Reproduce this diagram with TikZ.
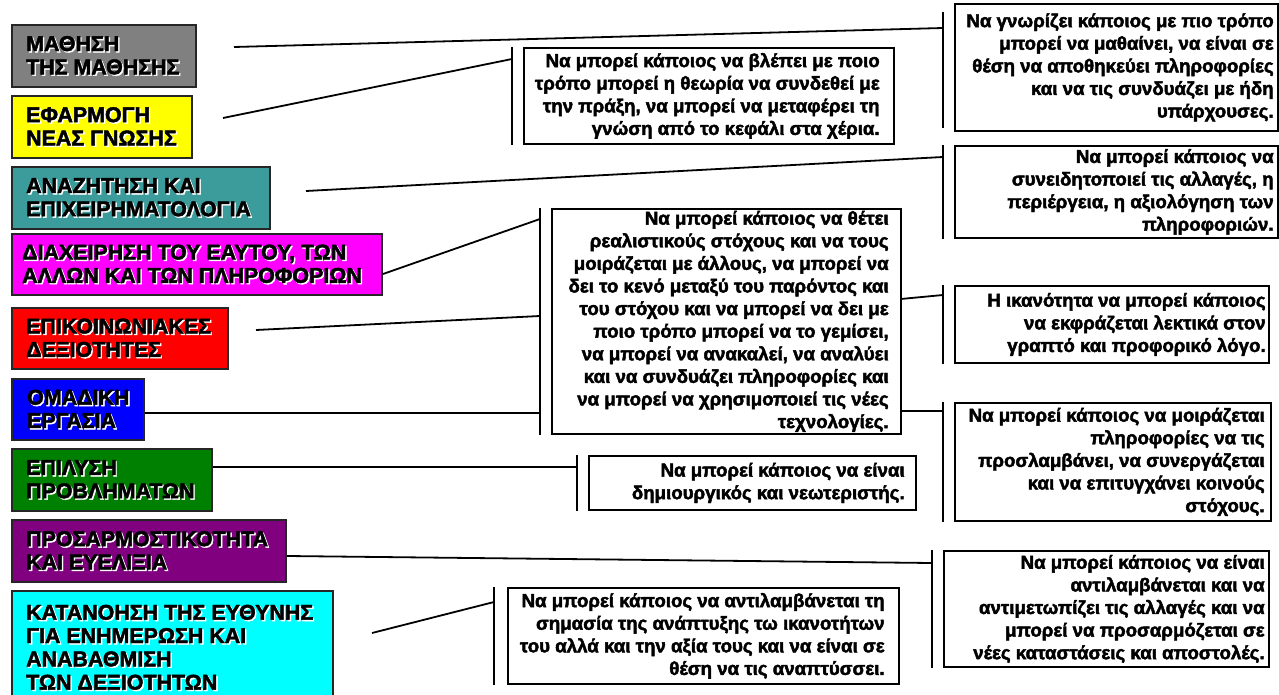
\documentclass[tikz,border=0pt]{standalone}
\usepackage{fontspec}
\setmainfont{Liberation Sans}
\newfontfamily\arialbold{Liberation Sans Bold}
\newcommand\heavy{\special{pdf:literal direct 2 Tr 0.45 w}}
\definecolor{cgray}{RGB}{128,128,128}
\definecolor{cyellow}{RGB}{255,255,0}
\definecolor{cteal}{RGB}{60,155,155}
\definecolor{cmag}{RGB}{255,0,255}
\definecolor{cred}{RGB}{255,0,0}
\definecolor{cblue}{RGB}{0,0,255}
\definecolor{cgreen}{RGB}{0,128,0}
\definecolor{cpurple}{RGB}{128,0,128}
\definecolor{ccyan}{RGB}{0,255,255}
\newcommand\sh[1]{\rlap{\kern1.4pt\raisebox{-1.4pt}{\color{white}#1}}#1}
\tikzset{
  lbox/.style={draw=black!85, line width=2pt, anchor=north west, inner sep=0pt},
  rbox/.style={draw=black, line width=1.8pt, anchor=north west, inner sep=0pt, fill=white},
  ltext/.style={font=\arialbold\fontsize{21.4}{23.3}\selectfont\heavy, align=left, inner sep=0pt, anchor=west},
  rtext/.style={font=\arialbold\fontsize{18.7}{22.6}\selectfont\heavy, align=right, inner sep=0pt, anchor=east},
  conn/.style={line width=1.8pt},
  brk/.style={line width=2pt},
}
\begin{document}
\begin{tikzpicture}[x=1pt,y=-1pt]
\useasboundingbox (0,0) rectangle (1279,695);

% left boxes
\node[lbox, fill=cgray, minimum width=184pt, minimum height=62pt,
  label={[ltext, label distance=-15pt]west:{\sh{ΜΑΘΗΣΗ}\\\sh{ΤΗΣ ΜΑΘΗΣΗΣ}}}] (gray) at (11,24) {};
\node[lbox, fill=cyellow, minimum width=180pt, minimum height=62pt,
  label={[ltext, label distance=-15pt]west:{\sh{ΕΦΑΡΜΟΓΗ}\\\sh{ΝΕΑΣ ΓΝΩΣΗΣ}}}] (yellow) at (11,95) {};
\node[lbox, fill=cteal, minimum width=258pt, minimum height=62pt,
  label={[ltext, label distance=-15pt]west:{\sh{ΑΝΑΖΗΤΗΣΗ ΚΑΙ}\\\sh{ΕΠΙΧΕΙΡΗΜΑΤΟΛΟΓΙΑ}}}] (teal) at (11,166) {};
\node[lbox, fill=cmag, minimum width=370pt, minimum height=61pt,
  label={[ltext, label distance=-11pt]west:{\sh{ΔΙΑΧΕΙΡΗΣΗ ΤΟΥ ΕΑΥΤΟΥ, ΤΩΝ}\\\sh{ΑΛΛΩΝ ΚΑΙ ΤΩΝ ΠΛΗΡΟΦΟΡΙΩΝ}}}] (mag) at (11,233) {};
\node[lbox, fill=cred, minimum width=216pt, minimum height=61pt,
  label={[ltext, label distance=-15pt]west:{\sh{ΕΠΙΚΟΙΝΩΝΙΑΚΕΣ}\\\sh{ΔΕΞΙΟΤΗΤΕΣ}}}] (red) at (11,307) {};
\node[lbox, fill=cblue, minimum width=132pt, minimum height=61pt,
  label={[ltext, label distance=-16pt]west:{\sh{ΟΜΑΔΙΚΗ}\\\sh{ΕΡΓΑΣΙΑ}}}] (blue) at (11,378) {};
\node[lbox, fill=cgreen, minimum width=200pt, minimum height=62pt,
  label={[ltext, label distance=-15pt]west:{\sh{ΕΠΙΛΥΣΗ}\\\sh{ΠΡΟΒΛΗΜΑΤΩΝ}}}] (green) at (11,448) {};
\node[lbox, fill=cpurple, minimum width=274pt, minimum height=62pt,
  label={[ltext, label distance=-15pt]west:{\sh{ΠΡΟΣΑΡΜΟΣΤΙΚΟΤΗΤΑ}\\\sh{ΚΑΙ ΕΥΕΛΙΞΙΑ}}}] (purple) at (11,519) {};
\node[lbox, fill=ccyan, minimum width=321pt, minimum height=114pt,
  label={[ltext, label distance=-15pt]west:{\sh{ΚΑΤΑΝΟΗΣΗ ΤΗΣ ΕΥΘΥΝΗΣ}\\\sh{ΓΙΑ ΕΝΗΜΕΡΩΣΗ ΚΑΙ}\\\sh{ΑΝΑΒΑΘΜΙΣΗ}\\\sh{ΤΩΝ ΔΕΞΙΟΤΗΤΩΝ}}}] (cyan) at (11,590) {};

% right boxes
\node[rbox, minimum width=323pt, minimum height=127pt,
  label={[rtext, label distance=-5pt]east:{Να γνωρίζει κάποιος με πιο τρόπο\\μπορεί να μαθαίνει, να είναι σε\\θέση να αποθηκεύει πληροφορίες\\και να τις συνδυάζει με ήδη\\υπάρχουσες.}}] (A) at (954,3) {};
\node[rbox, minimum width=370pt, minimum height=96pt,
  label={[rtext, label distance=-15pt]east:{Να μπορεί κάποιος να βλέπει με ποιο\\τρόπο μπορεί η θεωρία να συνδεθεί με\\την πράξη, να μπορεί να μεταφέρει τη\\γνώση από το κεφάλι στα χέρια.}}] (B) at (523,47) {};
\node[rbox, minimum width=323pt, minimum height=92pt,
  label={[rtext, label distance=-5pt]east:{Να μπορεί κάποιος να\\συνειδητοποιεί τις αλλαγές, η\\περιέργεια, η αξιολόγηση των\\πληροφοριών.}}] (C) at (954,145) {};
\node[rbox, minimum width=349pt, minimum height=225pt,
  label={[rtext, label distance=-13pt]east:{Να μπορεί κάποιος να θέτει\\ρεαλιστικούς στόχους και να τους\\μοιράζεται με άλλους, να μπορεί να\\δει το κενό μεταξύ του παρόντος και\\του στόχου και να μπορεί να δει με\\ποιο τρόπο μπορεί να το γεμίσει,\\να μπορεί να ανακαλεί, να αναλύει\\και να συνδυάζει πληροφορίες και\\να μπορεί να χρησιμοποιεί τις νέες\\τεχνολογίες.}}] (D) at (551,208) {};
\node[rbox, minimum width=314pt, minimum height=77pt,
  label={[rtext, label distance=-4pt]east:{Η ικανότητα να μπορεί κάποιος\\να εκφράζεται λεκτικά στον\\γραπτό και προφορικό λόγο.}}] (E) at (954,285) {};
\node[rbox, minimum width=316pt, minimum height=118pt,
  label={[rtext, label distance=-7pt]east:{Να μπορεί κάποιος να μοιράζεται\\πληροφορίες να τις\\προσλαμβάνει, να συνεργάζεται\\και να επιτυγχάνει κοινούς\\στόχους.}}] (F) at (954,402) {};
\node[rbox, minimum width=327pt, minimum height=54pt,
  label={[rtext, label distance=-12pt]east:{Να μπορεί κάποιος να είναι\\δημιουργικός και νεωτεριστής.}}] (G) at (588,455) {};
\node[rbox, minimum width=325pt, minimum height=116pt,
  label={[rtext, label distance=-5pt]east:{Να μπορεί κάποιος να είναι\\αντιλαμβάνεται και να\\αντιμετωπίζει τις αλλαγές και να\\μπορεί να προσαρμόζεται σε\\νέες καταστάσεις και αποστολές.}}] (H) at (943,550) {};
\node[rbox, minimum width=391pt, minimum height=96pt,
  label={[rtext, label distance=-15pt]east:{Να μπορεί κάποιος να αντιλαμβάνεται τη\\σημασία της ανάπτυξης τω ικανοτήτων\\του αλλά και την αξία τους και να είναι σε\\θέση να τις αναπτύσσει.}}] (I) at (507,587) {};

% brackets
\draw[brk] (943,12) -- (943,128);
\foreach \b in {B,C,D,E,F,G,H}
  \draw[brk] ([xshift=-11pt]\b.north west) -- ([xshift=-11pt]\b.south west);
\draw[brk] ([xshift=-13pt]I.north west) -- ([xshift=-13pt]I.south west);

% connector ends
\coordinate (s1) at (234,47);   \coordinate (e1) at (943,28);
\coordinate (s2) at (223,118);  \coordinate (e2) at (512,59);
\coordinate (s3) at (306,191);  \coordinate (e3) at (943,157);
\coordinate (e4) at (540,219);
\coordinate (s5) at (256,330);  \coordinate (e5) at (540,316);
\coordinate (e6) at (540,413);
\coordinate (e7) at (943,295);
\coordinate (e8) at (943,411);
\coordinate (e9) at (577,467);
\coordinate (e10) at (932,563);
\coordinate (s11) at (372,633); \coordinate (e11) at (494,602);

\draw[conn] (s1) -- (e1);
\draw[conn] (s2) -- (e2);
\draw[conn] (s3) -- (e3);
\draw[conn] ([yshift=-9.5pt]mag.east) -- (e4);
\draw[conn] (s5) -- (e5);
\draw[conn] (blue.east |- e6) -- (e6);
\draw[conn] ([yshift=22.5pt]D.east) -- (e7);
\draw[conn] (D.east |- e8) -- (e8);
\draw[conn] (green.east |- e9) -- (e9);
\draw[conn] ([yshift=-5pt]purple.east) -- (e10);
\draw[conn] (s11) -- (e11);
\end{tikzpicture}
\end{document}
